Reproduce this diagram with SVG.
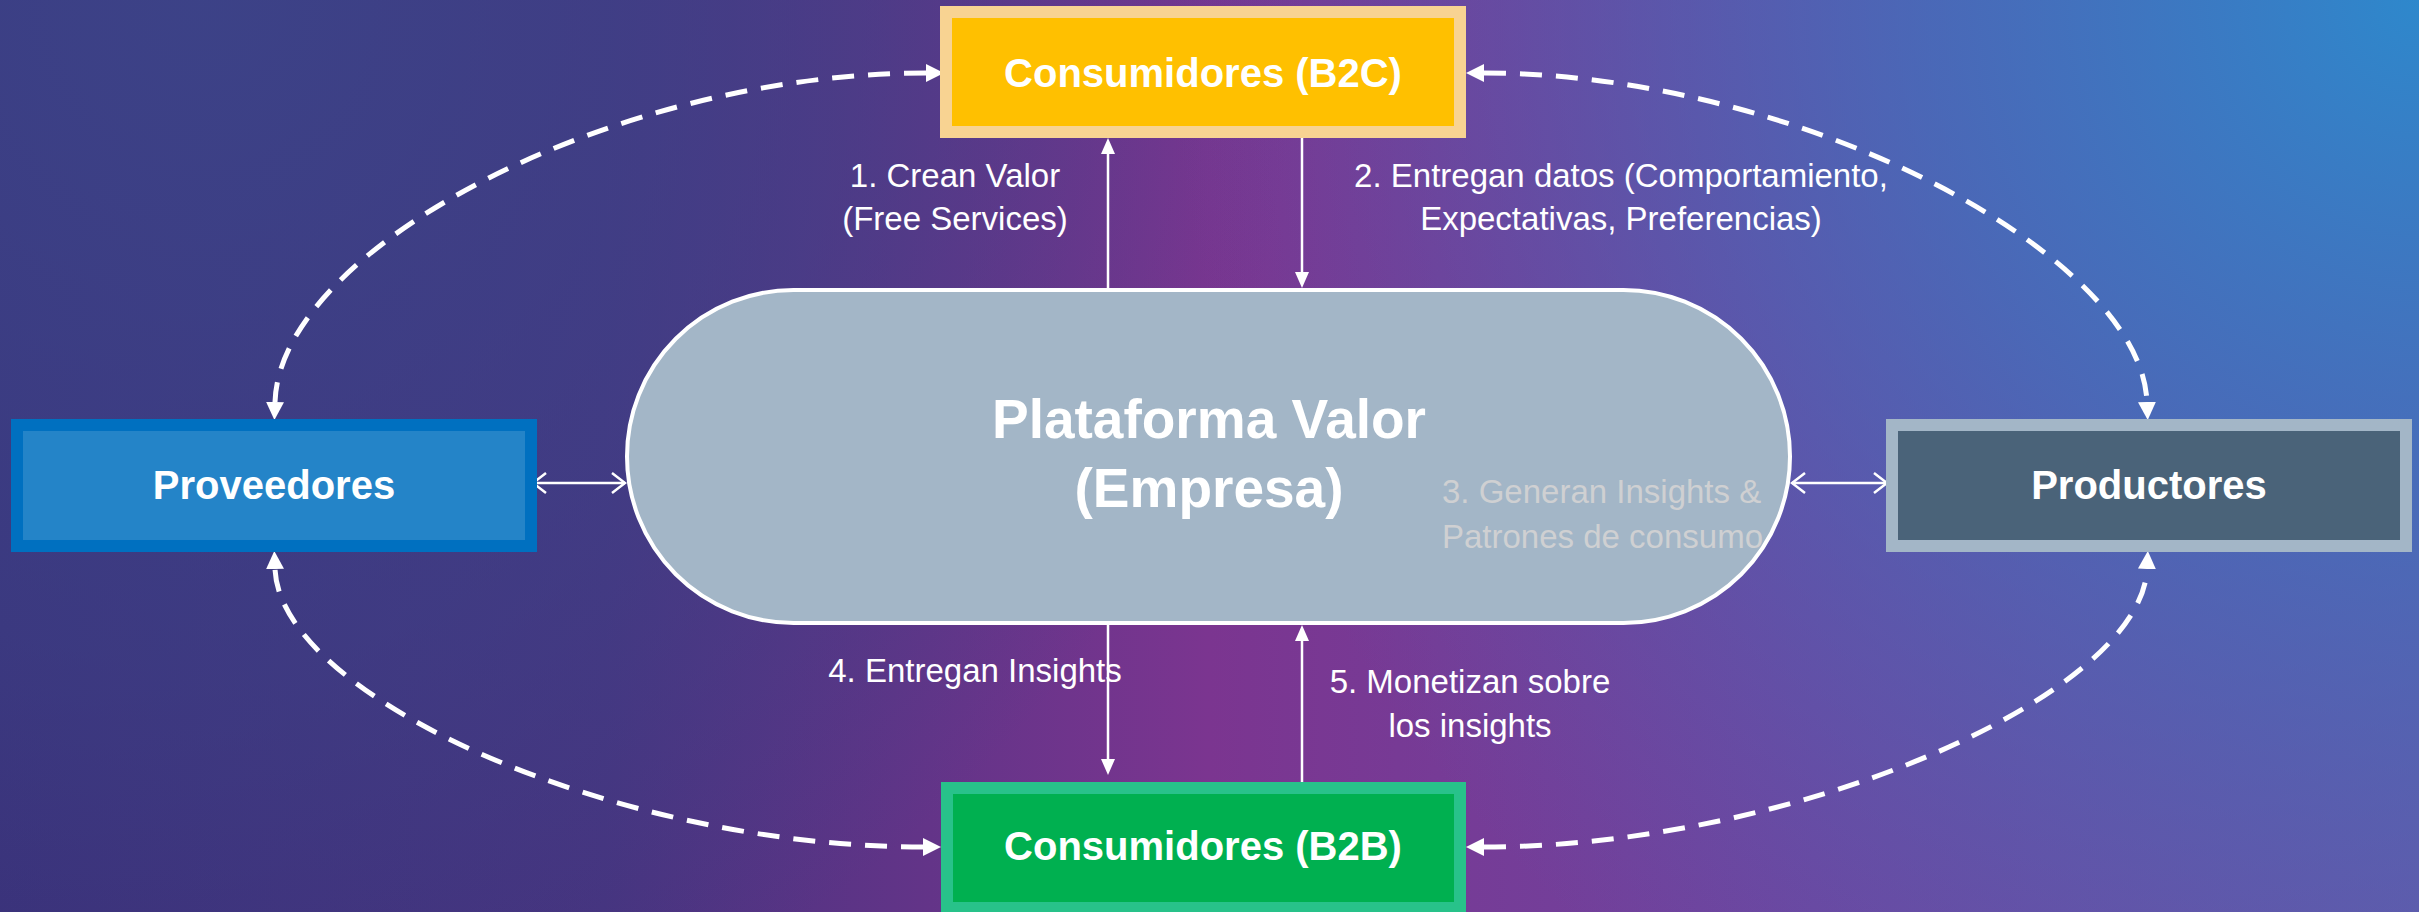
<svg xmlns="http://www.w3.org/2000/svg" width="2419" height="912" viewBox="0 0 2419 912">
<style>
.lbl{font-family:"Liberation Sans",Arial,sans-serif;font-weight:bold;fill:#fff;text-anchor:middle}
.note{font-family:"Liberation Sans",Arial,sans-serif;font-size:33px;fill:#fff}
.dash{fill:none;stroke:#fff;stroke-width:5;stroke-dasharray:22 14;marker-start:url(#dtri);marker-end:url(#dtri)}
.solid{fill:none;stroke:#fff;stroke-width:2.5;marker-end:url(#tri)}
.dbl{fill:none;stroke:#fff;stroke-width:2.5;marker-start:url(#open);marker-end:url(#open)}
</style>
<defs>
<linearGradient id="bg" x1="0" y1="0" x2="1" y2="0">
<stop offset="0" stop-color="#3A2F78"/>
<stop offset="0.25" stop-color="#47337F"/>
<stop offset="0.5" stop-color="#7B3590"/>
<stop offset="0.75" stop-color="#6E45A0"/>
<stop offset="1" stop-color="#6756A8"/>
</linearGradient>
<radialGradient id="tr" cx="2419" cy="0" r="1250" gradientUnits="userSpaceOnUse">
<stop offset="0" stop-color="#2E88CC" stop-opacity="1"/>
<stop offset="0.4" stop-color="#3F72BE" stop-opacity="0.75"/>
<stop offset="1" stop-color="#5060B0" stop-opacity="0"/>
</radialGradient>
<radialGradient id="tl" cx="200" cy="0" r="1100" gradientUnits="userSpaceOnUse">
<stop offset="0" stop-color="#3C4388" stop-opacity="0.95"/>
<stop offset="0.6" stop-color="#3C4388" stop-opacity="0.5"/>
<stop offset="1" stop-color="#3C4388" stop-opacity="0"/>
</radialGradient>
<marker id="dtri" markerUnits="userSpaceOnUse" markerWidth="18" markerHeight="18" viewBox="0 0 18 18" refX="0" refY="9" orient="auto-start-reverse">
<path d="M0 0 L18 9 L0 18 Z" fill="#fff"/>
</marker>
<marker id="tri" markerUnits="userSpaceOnUse" markerWidth="16" markerHeight="16" viewBox="0 0 16 16" refX="0" refY="8" orient="auto-start-reverse">
<path d="M0 1 L16 8 L0 15 Z" fill="#fff"/>
</marker>
<marker id="open" markerUnits="userSpaceOnUse" markerWidth="16" markerHeight="24" viewBox="0 0 16 24" refX="14" refY="12" orient="auto-start-reverse">
<path d="M1 2 L14 12 L1 22" fill="none" stroke="#fff" stroke-width="2.5"/>
</marker>
</defs>
<rect x="0" y="0" width="2419" height="912" fill="url(#bg)"/>
<rect x="0" y="0" width="2419" height="912" fill="url(#tl)"/>
<rect x="0" y="0" width="2419" height="912" fill="url(#tr)"/>

<g id="connectors">
<path class="dash" d="M926 73 C614 73 280 248 275 402"/>
<path class="dash" d="M1484 73 C1796 73 2141 253 2147 402"/>
<path class="dash" d="M923 847 C616 847 280 697 275 569"/>
<path class="dash" d="M1484 847 C1791 847 2141 697 2147 569"/>
<path class="solid" d="M1108 289 L1108 154"/>
<path class="solid" d="M1302 138 L1302 272"/>
<path class="solid" d="M1108 624 L1108 759"/>
<path class="solid" d="M1302 786 L1302 641"/>
<path class="dbl" d="M533 483 L625 483"/>
<path class="dbl" d="M1792 483 L1887 483"/>
</g>

<g id="plataforma">
<rect x="627" y="290" width="1163" height="333" rx="166.5" ry="166.5" fill="#A3B6C7" stroke="#fff" stroke-width="4"/>
<text class="lbl" x="1209" y="438" font-size="55">Plataforma Valor</text>
<text class="lbl" x="1209" y="507" font-size="55">(Empresa)</text>
</g>

<g id="b2c">
<rect x="946" y="12" width="514" height="120" fill="#FFC000" stroke="#F8D392" stroke-width="12"/>
<text class="lbl" x="1203" y="87" font-size="40">Consumidores (B2C)</text>
</g>

<g id="proveedores">
<rect x="17" y="425" width="514" height="121" fill="#2484C8" stroke="#0070C0" stroke-width="12"/>
<text class="lbl" x="274" y="499" font-size="40">Proveedores</text>
</g>

<g id="productores">
<rect x="1892" y="425" width="514" height="121" fill="#4A6379" stroke="#A3B6C7" stroke-width="12"/>
<text class="lbl" x="2149" y="499" font-size="40">Productores</text>
</g>

<g id="b2b">
<rect x="947" y="788" width="513" height="120" fill="#00B050" stroke="#28C28A" stroke-width="12"/>
<text class="lbl" x="1203" y="860" font-size="40">Consumidores (B2B)</text>
</g>

<g id="labels">
<text class="note" x="955" y="187" text-anchor="middle">1. Crean Valor</text>
<text class="note" x="955" y="230" text-anchor="middle">(Free Services)</text>
<text class="note" x="1621" y="187" text-anchor="middle">2. Entregan datos (Comportamiento,</text>
<text class="note" x="1621" y="230" text-anchor="middle">Expectativas, Preferencias)</text>
<text class="note" x="1442" y="503" style="fill:#CFD0D2">3. Generan Insights &amp;</text>
<text class="note" x="1442" y="548" style="fill:#CFD0D2">Patrones de consumo</text>
<text class="note" x="975" y="682" text-anchor="middle">4. Entregan Insights</text>
<text class="note" x="1470" y="693" text-anchor="middle">5. Monetizan sobre</text>
<text class="note" x="1470" y="737" text-anchor="middle">los insights</text>
</g>
</svg>
